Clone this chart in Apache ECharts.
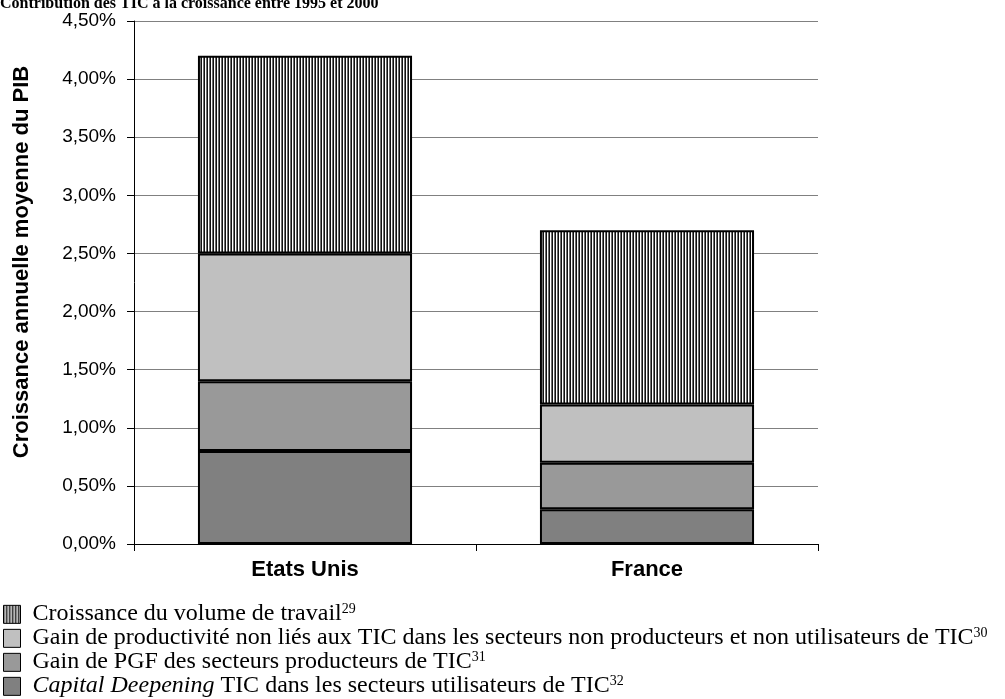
<!DOCTYPE html>
<html>
<head>
<meta charset="utf-8">
<script src="https://cdn.jsdelivr.net/npm/echarts@6/dist/echarts.min.js"></script>
<style>
  html, body { margin: 0; padding: 0; background: #fff; }
  #chart { width: 1005px; height: 699px; }
</style>
</head>
<body>
<div id="chart"></div>
<script>
// Contribution des TIC à la croissance (1995-2000), en points de % du PIB
const categories = ['Etats Unis', 'France'];
const capitalDeepening = [0.8, 0.3];
const gainPGF = [0.6, 0.4];
const gainNonTIC = [1.1, 0.5];
const volumeTravail = [1.7, 1.5];

const seriesNames = {
  capital: 'Capital Deepening',
  pgf: 'Gain de PGF',
  nonTic: 'Gain non TIC',
  travail: 'Croissance du volume de travail'
};

// Vertical hatch fill for the labour component
function hatchPattern() {
  const c = document.createElement('canvas');
  c.width = 3; c.height = 4;
  const ctx = c.getContext('2d');
  ctx.fillStyle = '#111111'; ctx.fillRect(0, 0, 1, 4);
  ctx.fillStyle = '#ffffff'; ctx.fillRect(1, 0, 1, 4);
  ctx.fillStyle = '#6e6e6e'; ctx.fillRect(2, 0, 1, 4);
  return c;
}

const chart = echarts.init(document.getElementById('chart'), null, { renderer: 'canvas' });

const fmtPct = v => v.toFixed(2).replace('.', ',') + '%';

const barBase = {
  type: 'bar',
  stack: 'total',
  barWidth: '62.6%',
  emphasis: { disabled: true }
};

const legendText = {
  [seriesNames.travail]: '{n|Croissance du volume de travail}{s|29}',
  [seriesNames.nonTic]: '{n|Gain de productivité non liés aux TIC dans les secteurs non producteurs et non utilisateurs de TIC}{s|30}',
  [seriesNames.pgf]: '{n|Gain de PGF des secteurs producteurs de TIC}{s|31}',
  [seriesNames.capital]: '{i|Capital Deepening}{n| TIC dans les secteurs utilisateurs de TIC}{s|32}'
};

const serif = 'Liberation Serif';
const sans = 'Liberation Sans';

chart.setOption({
  animation: false,
  backgroundColor: '#ffffff',
  title: {
    text: 'Contribution des TIC à la croissance entre 1995 et 2000',
    left: -5,
    top: -9,
    textStyle: { fontFamily: serif, fontWeight: 'bold', fontSize: 16, color: '#000' }
  },
  grid: { left: 134, right: 187, top: 21, bottom: 155 },
  legend: {
    orient: 'vertical',
    left: 3,
    top: 602,
    height: 97,
    padding: 0,
    icon: 'rect',
    itemWidth: 17,
    itemHeight: 18,
    itemGap: 0,
    selectedMode: false,
    data: [seriesNames.travail, seriesNames.nonTic, seriesNames.pgf, seriesNames.capital],
    itemStyle: { borderWidth: 1 },
    formatter: name => legendText[name],
    textStyle: {
      padding: [0, 0, 0, 7],
      rich: {
        n: { fontFamily: serif, fontSize: 24, color: '#000', lineHeight: 23.3, verticalAlign: 'bottom' },
        i: { fontFamily: serif, fontSize: 24, fontStyle: 'italic', color: '#000', lineHeight: 23.3, verticalAlign: 'bottom' },
        s: { fontFamily: serif, fontSize: 14, color: '#000', lineHeight: 23.3, verticalAlign: 'top' }
      }
    }
  },
  xAxis: {
    type: 'category',
    data: categories,
    axisLine: { lineStyle: { color: '#000', width: 1 } },
    axisTick: { show: true, length: 7, lineStyle: { color: '#000' } },
    axisLabel: { margin: 15, fontFamily: sans, fontWeight: 'bold', fontSize: 22, color: '#000' }
  },
  yAxis: {
    type: 'value',
    min: 0,
    max: 4.5,
    interval: 0.5,
    axisLine: { show: true, lineStyle: { color: '#000', width: 1 } },
    axisTick: { show: true, length: 7, lineStyle: { color: '#000' } },
    splitLine: { lineStyle: { color: '#808080', width: 1 } },
    axisLabel: { margin: 18, formatter: fmtPct, fontFamily: sans, fontSize: 19, color: '#000' }
  },
  graphic: [{
    type: 'text',
    x: 22,
    y: 262,
    rotation: Math.PI / 2,
    style: {
      text: 'Croissance annuelle moyenne du PIB',
      fontFamily: sans,
      fontWeight: 'bold',
      fontSize: 22,
      fill: '#000',
      align: 'center',
      verticalAlign: 'middle'
    }
  }],
  series: [
    Object.assign({}, barBase, {
      name: seriesNames.capital,
      data: capitalDeepening,
      itemStyle: { color: '#808080', borderColor: '#000', borderWidth: 2 }
    }),
    Object.assign({}, barBase, {
      name: seriesNames.pgf,
      data: gainPGF,
      itemStyle: { color: '#999999', borderColor: '#000', borderWidth: 2 }
    }),
    Object.assign({}, barBase, {
      name: seriesNames.nonTic,
      data: gainNonTIC,
      itemStyle: { color: '#c0c0c0', borderColor: '#000', borderWidth: 2 }
    }),
    Object.assign({}, barBase, {
      name: seriesNames.travail,
      data: volumeTravail,
      itemStyle: {
        color: { image: hatchPattern(), repeat: 'repeat' },
        borderColor: '#000',
        borderWidth: 2
      }
    })
  ]
});
</script>
</body>
</html>
